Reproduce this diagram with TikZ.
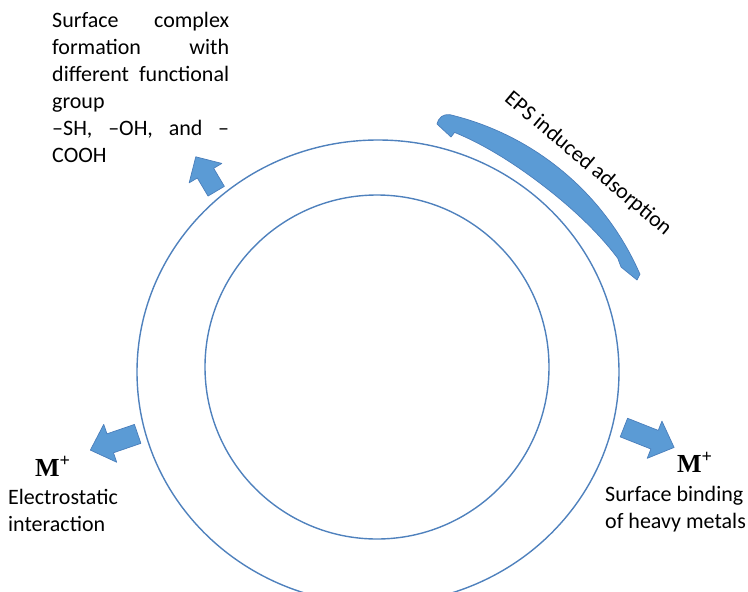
\documentclass[tikz,border=0pt]{standalone}
\usepackage{fontspec}
\setmainfont{Carlito}
\newfontfamily\mfont{Liberation Serif}
\definecolor{ringblue}{HTML}{4F81BD}
\definecolor{arrowfill}{HTML}{5B9BD5}
\definecolor{arrowline}{HTML}{4A7EBB}
\tikzset{
  ring/.style={draw=ringblue, line width=1.4pt},
  blockfill/.style={fill=arrowfill, draw=arrowline, line width=0.7pt, line join=round},
  labeltext/.style={inner sep=0pt, font=\fontsize{22}{27}\selectfont},
  mlabel/.style={inner sep=0pt, font=\fontsize{26}{30}\selectfont\mfont\bfseries},
}
% straight block arrow: centre x, centre y, direction, length, head width, shaft width, head length
\newcommand\blockarrow[7]{%
  \begin{scope}[shift={(#1,#2)}, rotate=#3]
    \path[blockfill] ({-#4/2},{-#6/2}) -- ({#4/2-#7},{-#6/2}) -- ({#4/2-#7},{-#5/2})
      -- ({#4/2},0) -- ({#4/2-#7},{#5/2}) -- ({#4/2-#7},{#6/2}) -- ({-#4/2},{#6/2}) -- cycle;
  \end{scope}}
% one justified line of the top-left paragraph
\newcommand\fullline[1]{\leavevmode\makebox[177pt]{#1}}
% inner edge radius of the curved band at angle t
\newcommand\bandr[1]{(265-3*((#1)-28.6)/46-9*sin(((#1)-28.6)/46*180))}
\begin{document}
\begin{tikzpicture}[x=1pt, y=1pt]
\useasboundingbox (0,0) rectangle (748,-592);

% cell rings
\draw[ring] (378,-372) ellipse [x radius=241, y radius=232];
\draw[ring] (377,-367) circle [radius=172];

% curved band along the upper right of the cell
\path[blockfill] (437,-124) .. controls (439,-117) and (443,-114) .. (449.9,-114.7)
  arc [start angle=76.5, end angle=23.5, radius=278]
  -- (637,-280) -- (621,-267) -- (617.7,-258.1)
  -- plot[domain=28.6:74.6, samples=60]
     ({385+\bandr{\x}*cos(\x)}, {-385+\bandr{\x}*sin(\x)})
  -- (451,-137) -- cycle;
\node[labeltext, rotate=-40] (eps) at (588,-164) {EPS induced adsorption};

% block arrows leaving the cell
\blockarrow{206}{-174}{120.7}{40}{38}{19}{19}
\blockarrow{114}{-442}{198.9}{50}{40}{20}{21}
\blockarrow{649}{-437.5}{-21.6}{54}{40}{20}{21}

% top left: functional groups
\node[labeltext, anchor=north west, text width=177pt, align=left] (cplx) at (52,-12) {%
  \fullline{Surface\hfill complex}\\
  \fullline{formation\hfill with}\\
  \fullline{different\hfill functional}\\
  group\\
  \fullline{--SH,\hfill --OH,\hfill and\hfill --}\\
  COOH};

% left: electrostatic interaction
\node[mlabel, anchor=base west] (mleft) at (35,-476) {M\textsuperscript{+}};
\node[labeltext, anchor=north west, align=left] (elec) at (8,-489) {Electrostatic\\interaction};

% right: surface binding
\node[mlabel, anchor=base west] (mright) at (677,-472) {M\textsuperscript{+}};
\node[labeltext, anchor=north west, align=left] (bind) at (605,-486) {Surface binding\\of heavy metals};
\end{tikzpicture}
\end{document}
